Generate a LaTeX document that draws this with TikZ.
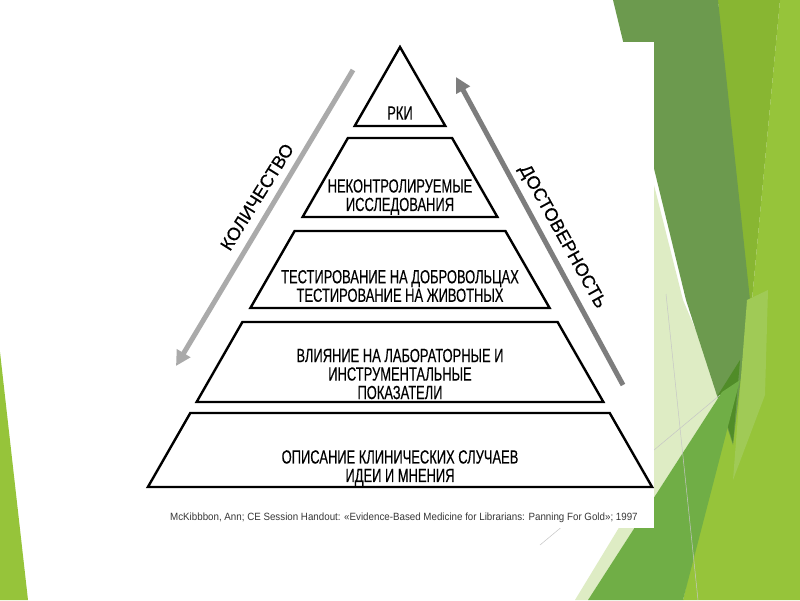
\documentclass[tikz,border=0pt]{standalone}
\usepackage{fontspec}
\setmainfont{Liberation Sans}
\newfontfamily\narrowfont[FakeStretch=0.68,FakeBold=0.3]{Liberation Sans}
\newfontfamily\labelfont[FakeBold=0.4]{Liberation Sans}
\newfontfamily\citefont[FakeStretch=0.93]{Liberation Sans}
\usetikzlibrary{arrows.meta}
\definecolor{gmuted}{RGB}{108,154,78}
\definecolor{golive}{RGB}{136,182,50}
\definecolor{gbright}{RGB}{150,196,58}
\definecolor{gpale}{RGB}{222,236,196}
\definecolor{gmed}{RGB}{112,174,70}
\definecolor{gdark}{RGB}{80,140,40}
\definecolor{glight}{RGB}{160,202,86}
\definecolor{arrowlight}{RGB}{170,170,170}
\definecolor{arrowdark}{RGB}{125,125,125}
\definecolor{citegray}{RGB}{55,55,55}
\tikzset{
  tier/.style={draw=black, line width=2.4pt, line join=miter, fill=white},
  tiertext/.style={font={\narrowfont\fontsize{19}{18.5}\selectfont}, align=center, text=black, inner sep=0pt},
  sidelabel/.style={font={\labelfont\fontsize{18}{20}\selectfont}, text=black, inner sep=0pt},
  bigarrow/.style={line width=5pt, -{Triangle[length=15pt,width=15pt]}},
  faint/.style={draw=gray!45, line width=0.5pt}
}
\begin{document}
\begin{tikzpicture}[x=1pt,y=-1pt]
\useasboundingbox (0,0) rectangle (800,600);
\fill[white] (0,0) rectangle (800,600);
% background theme shapes
\fill[gbright] (0,352) -- (0,600) -- (28,600) -- cycle;
\fill[gbright] (780,0) -- (800,0) -- (800,600) -- (683,600) -- (752,300) -- cycle;
\fill[golive] (718,0) -- (780,0) -- (752,300) -- (742,390) -- cycle;
\fill[gpale] (630,90) -- (683,300) -- (722,392) -- (588,600) -- (575,600) -- (654,470) -- cycle;
\fill[gmuted] (613,0) -- (718,0) -- (750,300) -- (733,445) -- (686,300) -- cycle;
\fill[gdark] (718,395) -- (740,360) -- (733,443) -- cycle;
\fill[glight] (747,300) -- (768,290) -- (765,395) -- (733,480) -- cycle;
\fill[gmed] (588,600) -- (722,392) -- (740,380) -- (683,600) -- cycle;
\draw[faint] (666,294) -- (698,600);
\draw[faint] (540,545) -- (720,395);
% white panel
\fill[white] (140,42) rectangle (654,528);
% pyramid tiers
\draw[tier] (400,47) -- (445.3,126) -- (354.7,126) -- cycle;
\draw[tier] (347.9,138) -- (452.1,138) -- (497.4,217) -- (302.6,217) -- cycle;
\draw[tier] (294.6,231) -- (505.4,231) -- (549.6,308) -- (250.4,308) -- cycle;
\draw[tier] (242.4,322) -- (557.6,322) -- (603.4,402) -- (196.6,402) -- cycle;
\draw[tier] (190.3,413) -- (609.7,413) -- (652.1,487) -- (147.9,487) -- cycle;
% tier texts
\node[tiertext] (t1) at (400,113) {РКИ};
\node[tiertext] (t2) at (400,197) {НЕКОНТРОЛИРУЕМЫЕ\\ИССЛЕДОВАНИЯ};
\node[tiertext] (t3) at (400,286) {ТЕСТИРОВАНИЕ НА ДОБРОВОЛЬЦАХ\\ТЕСТИРОВАНИЕ НА ЖИВОТНЫХ};
\node[tiertext] (t4) at (400,374) {ВЛИЯНИЕ НА ЛАБОРАТОРНЫЕ И\\ИНСТРУМЕНТАЛЬНЫЕ\\ПОКАЗАТЕЛИ};
\node[tiertext] (t5) at (400,468) {ОПИСАНИЕ КЛИНИЧЕСКИХ СЛУЧАЕВ\\ИДЕИ И МНЕНИЯ};
% arrows
\coordinate (qtop) at (353,70);
\coordinate (qtip) at (176,366);
\coordinate (rbot) at (623,385);
\coordinate (rtip) at (456,77);
\draw[bigarrow, arrowlight] (qtop) -- (qtip);
\draw[bigarrow, arrowdark] (rbot) -- (rtip);
\node[sidelabel, rotate=58] (kol) at (257,197) {КОЛИЧЕСТВО};
\node[sidelabel, rotate=-61] (dost) at (562,237) {ДОСТОВЕРНОСТЬ};
% citation
\node[font={\citefont\fontsize{10.5}{12}\selectfont}, text=citegray, anchor=west, inner sep=0pt] (cite) at (170,518) {McKibbbon, Ann; CE Session Handout: «Evidence-Based Medicine for Librarians: Panning For Gold»; 1997};
\end{tikzpicture}
\end{document}
